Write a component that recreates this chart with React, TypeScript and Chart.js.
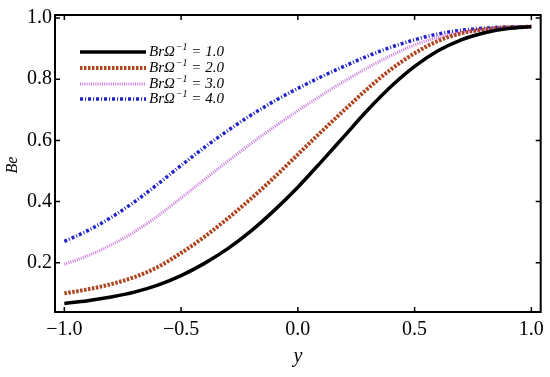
import React, { useEffect, useRef } from "react";
import { Chart, registerables } from "chart.js";

Chart.register(...registerables);

const xValues = [-1, -0.9, -0.8, -0.7, -0.6, -0.5, -0.4, -0.3, -0.2, -0.1, 0, 0.1, 0.2, 0.3, 0.4, 0.5, 0.6, 0.7, 0.8, 0.9, 1.0];
const series1 = [0.067, 0.076, 0.088, 0.104, 0.127, 0.158, 0.198, 0.246, 0.304, 0.372, 0.447, 0.53, 0.615, 0.70, 0.777, 0.842, 0.893, 0.929, 0.952, 0.966, 0.972];
const series2 = [0.10, 0.113, 0.13, 0.153, 0.186, 0.232, 0.285, 0.345, 0.41, 0.48, 0.554, 0.628, 0.70, 0.77, 0.833, 0.885, 0.925, 0.95, 0.963, 0.969, 0.972];
const series3 = [0.195, 0.223, 0.258, 0.301, 0.353, 0.412, 0.472, 0.532, 0.59, 0.645, 0.697, 0.747, 0.794, 0.838, 0.878, 0.912, 0.937, 0.953, 0.962, 0.967, 0.972];
const series4 = [0.27, 0.305, 0.348, 0.399, 0.457, 0.518, 0.577, 0.632, 0.683, 0.729, 0.77, 0.808, 0.843, 0.876, 0.905, 0.929, 0.948, 0.96, 0.967, 0.971, 0.972];
const seriesLabels = ["1.0", "2.0", "3.0", "4.0"];
const xTicks = [-1, -0.5, 0, 0.5, 1];
const yTicks = [0.2, 0.4, 0.6, 0.8, 1.0];
const xTitle = "y";
const yTitle = "Be";

const SERIF = "'Liberation Serif', 'Times New Roman', serif";

const fmt = (v: number) => v.toFixed(1).replace("-", "\u2212");

const framePlugin = {
  id: "frame",
  afterDatasetsDraw(chart: any) {
    const { ctx, chartArea } = chart;
    const { left, right, top, bottom } = chartArea;
    const xs = chart.scales.x;
    const ys = chart.scales.y;
    ctx.save();
    ctx.strokeStyle = "#000";
    ctx.lineWidth = 2;
    ctx.strokeRect(left, top, right - left, bottom - top);
    ctx.lineWidth = 1.5;
    ctx.beginPath();
    xTicks.forEach((v) => {
      const px = xs.getPixelForValue(v);
      ctx.moveTo(px, bottom);
      ctx.lineTo(px, bottom - 5);
      ctx.moveTo(px, top);
      ctx.lineTo(px, top + 5);
    });
    yTicks.forEach((v) => {
      const py = ys.getPixelForValue(v);
      ctx.moveTo(left, py);
      ctx.lineTo(left + 5, py);
      ctx.moveTo(right, py);
      ctx.lineTo(right - 5, py);
    });
    ctx.stroke();

    // legend
    const ds = chart.data.datasets;
    const lx0 = left + 25;
    const lx1 = left + 91;
    const rowY = [top + 37, top + 53, top + 69, top + 84];
    ds.forEach((d: any, i: number) => {
      const y = rowY[i];
      ctx.save();
      ctx.strokeStyle = d.borderColor;
      ctx.lineWidth = d.borderWidth;
      ctx.setLineDash(d.borderDash || []);
      ctx.beginPath();
      ctx.moveTo(lx0, y);
      ctx.lineTo(lx1, y);
      ctx.stroke();
      ctx.restore();
      ctx.fillStyle = "#000";
      ctx.textBaseline = "middle";
      ctx.textAlign = "left";
      let x = lx1 + 3;
      ctx.font = `italic 15px ${SERIF}`;
      const a = "Br\u03A9";
      ctx.fillText(a, x, y);
      x += ctx.measureText(a).width + 1;
      ctx.font = `italic 10px ${SERIF}`;
      const sup = "\u22121";
      ctx.fillText(sup, x, y - 5);
      x += ctx.measureText(sup).width;
      ctx.font = `italic 15px ${SERIF}`;
      ctx.fillText(` = ${seriesLabels[i]}`, x, y);
    });

    // axis titles
    ctx.fillStyle = "#000";
    ctx.font = `italic 20px ${SERIF}`;
    ctx.textAlign = "center";
    ctx.textBaseline = "middle";
    ctx.fillText(xTitle, (left + right) / 2, 357);
    ctx.save();
    ctx.translate(13, 165);
    ctx.rotate(-Math.PI / 2);
    ctx.font = `italic 16px ${SERIF}`;
    ctx.fillText(yTitle, 0, 0);
    ctx.restore();
    ctx.restore();
  },
};

export default function App() {
  const ref = useRef<HTMLCanvasElement | null>(null);
  useEffect(() => {
    if (!ref.current) return;
    const mk = (vals: number[]) => xValues.map((x, i) => ({ x, y: vals[i] }));
    const chart = new Chart(ref.current, {
      type: "line",
      data: {
        datasets: [
          { label: seriesLabels[0], data: mk(series1), borderColor: "#000000", borderWidth: 3.5, borderDash: [], pointRadius: 0, cubicInterpolationMode: "monotone" },
          { label: seriesLabels[1], data: mk(series2), borderColor: "#b0441f", borderWidth: 4, borderDash: [2.5, 1.5], pointRadius: 0, cubicInterpolationMode: "monotone" },
          { label: seriesLabels[2], data: mk(series3), borderColor: "#cc77e0", borderWidth: 3, borderDash: [1, 1.2], pointRadius: 0, cubicInterpolationMode: "monotone" },
          { label: seriesLabels[3], data: mk(series4), borderColor: "#2222cc", borderWidth: 3.5, borderDash: [3, 2, 1, 2], pointRadius: 0, cubicInterpolationMode: "monotone" },
        ],
      },
      options: {
        animation: false,
        responsive: false,
        maintainAspectRatio: false,
        layout: { padding: { top: 10, right: 7, left: 0, bottom: 0 } },
        plugins: { legend: { display: false }, tooltip: { enabled: false } },
        scales: {
          x: {
            type: "linear",
            min: -1.04,
            max: 1.04,
            grid: { display: false, drawTicks: false },
            border: { display: false },
            afterBuildTicks: (s: any) => { s.ticks = xTicks.map((v) => ({ value: v })); },
            afterFit: (s: any) => { s.height = 65; },
            ticks: { padding: 6, color: "#000", font: { family: SERIF, size: 20 }, callback: (v: any) => fmt(Number(v)), maxRotation: 0 },
          },
          y: {
            type: "linear",
            min: 0.039,
            max: 1.01,
            grid: { display: false, drawTicks: false },
            border: { display: false },
            afterBuildTicks: (s: any) => { s.ticks = yTicks.map((v) => ({ value: v })); },
            afterFit: (s: any) => { s.width = 55; },
            ticks: { padding: 3, color: "#000", font: { family: SERIF, size: 20 }, callback: (v: any) => fmt(Number(v)) },
          },
        },
      } as any,
      plugins: [framePlugin],
    });
    return () => chart.destroy();
  }, []);
  return (
    <div style={{ position: "fixed", left: 0, top: 0, width: 550, height: 377, background: "#fff" }}>
      <canvas ref={ref} width={550} height={377} style={{ width: 550, height: 377, display: "block" }} />
    </div>
  );
}
